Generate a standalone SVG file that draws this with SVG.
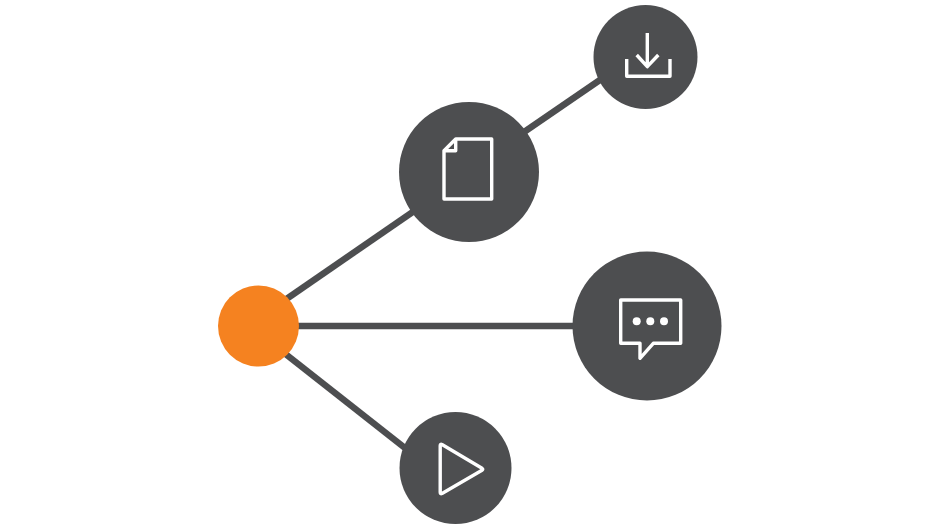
<svg xmlns="http://www.w3.org/2000/svg" width="940" height="528" viewBox="0 0 940 528">
<style>
.link{stroke:#4d4e50;stroke-width:6.5;fill:none}
.disc{fill:#4d4e50}
.icon{fill:none;stroke:#fff;stroke-width:3.4;stroke-linejoin:round}
</style>
<rect width="940" height="528" fill="#fff"/>
<g id="connectors">
<line class="link" x1="258.5" y1="318.2" x2="469" y2="173.2"/>
<line class="link" x1="469" y1="169.7" x2="645.5" y2="48.8"/>
<line class="link" x1="258.5" y1="326" x2="647" y2="326"/>
<line class="link" x1="258.5" y1="332.8" x2="455.5" y2="487.7"/>
</g>
<g id="hub"><circle cx="258.5" cy="326" r="40.5" fill="#f58220"/></g>
<g id="document">
<circle class="disc" cx="469" cy="172" r="70"/>
<path class="icon" d="M455.7 139H491.7V199H444V150.7ZM455.7 139V150.7H444"/>
</g>
<g id="download">
<circle class="disc" cx="645.5" cy="57" r="52"/>
<path class="icon" d="M647.3 33V66.7M636.7 55L647.3 66.7L658.3 55M626.7 59V76.3H670V59"/>
</g>
<g id="chat">
<circle class="disc" cx="647" cy="326" r="74.5"/>
<path class="icon" d="M620.7 300H680.7V343.3H653.3L640 358.3V343.3H620.7Z"/>
<circle cx="636.7" cy="321.3" r="4" fill="#fff"/>
<circle cx="650.3" cy="321.3" r="4" fill="#fff"/>
<circle cx="664" cy="321.3" r="4" fill="#fff"/>
</g>
<g id="play">
<circle class="disc" cx="455.5" cy="468" r="56"/>
<path class="icon" d="M442 444.5L482 468.3Q483.5 469.3 482 470.3L442 493.5Q440.2 494.3 440.2 492.3V445.7Q440.2 443.7 442 444.5Z"/>
</g>
</svg>
